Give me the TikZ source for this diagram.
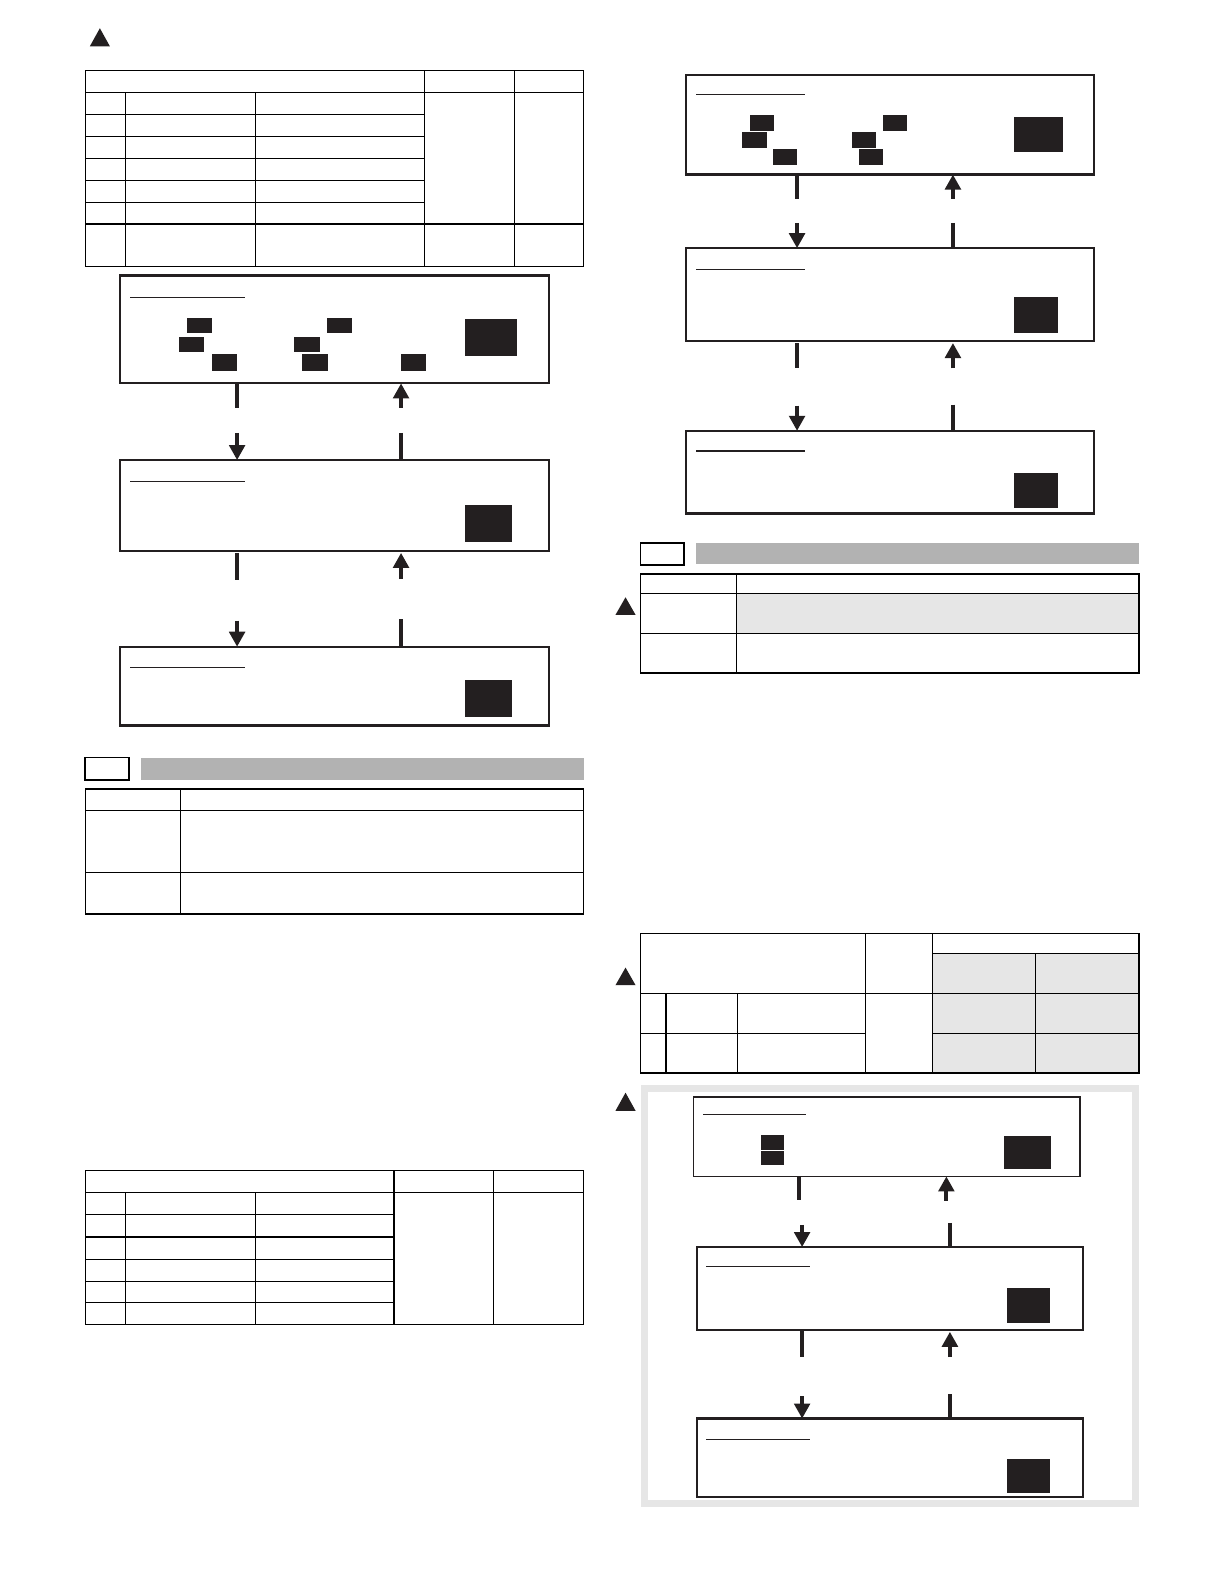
\documentclass[tikz,border=0pt]{standalone}
\usetikzlibrary{arrows.meta}
\definecolor{ink}{HTML}{231F20}
\definecolor{hdr}{HTML}{B2B2B2}
\definecolor{cellgray}{HTML}{E6E6E6}
\tikzset{
  screen/.style={draw=ink,line width=2.2pt,fill=white},
  thinscreen/.style={draw=ink,line width=1.6pt,fill=white},
  blk/.style={fill=ink,draw=none},
  ruleline/.style={draw=ink,line width=1.1pt},
  gridline/.style={draw=black,line width=1.25pt,line cap=rect},
  flowstub/.style={draw=ink,line width=3.9pt},
  flowtip/.style={draw=ink,line width=3.9pt,-{Triangle[width=15.5pt,length=15pt]}},
  warnmark/.style={fill=ink,draw=none},
  headbox/.style={draw=black,line width=1.5pt,fill=white},
  headbar/.style={fill=hdr,draw=none},
}
\newcommand{\bx}[6]{%
  \pgfmathsetmacro\bxw{(#4-#2)*1.0091}%
  \pgfmathsetmacro\bxh{(#5-#3)*1.0091}%
  \node[#6,minimum width=\bxw pt,minimum height=\bxh pt,inner sep=0pt,outer sep=0pt,anchor=north west] (#1) at (#2,#3) {};}
\newcommand{\tri}[3]{\path[warnmark] (#1,#2) -- (#1-10,#3) -- (#1+10,#3) -- cycle;}
\begin{document}
\begin{tikzpicture}[x=1.0091pt,y=-1.0091pt]
\useasboundingbox (0,0) rectangle (1213,1568);
\fill[white] (0,0) rectangle (1213,1568);
% warning triangles
\tri{99}{28}{46}
\tri{620}{592}{609.5}
\tri{620}{959}{976.5}
\tri{620}{1083}{1101}
% table 1
\draw[gridline] (84.5,70) rectangle (578,264);
\foreach \y in {92,222} \draw[gridline] (84.5,\y) -- (578,\y);
\foreach \y in {113.8,135.6,157.4,179.2,201} \draw[gridline] (84.5,\y) -- (420.6,\y);
\foreach \x in {124.3,253} \draw[gridline] (\x,92) -- (\x,264);
\foreach \x in {420.6,509.6} \draw[gridline] (\x,70) -- (\x,264);
% left column screens
\bx{aone}{119}{273}{544}{380}{screen}
\bx{atwo}{119}{456}{544}{546}{screen}
\bx{athree}{119}{641}{544}{719}{screen}
\draw[ruleline] (129,295) -- (243,295);
\draw[ruleline] (129,477) -- (243,477);
\draw[ruleline] (129,662) -- (243,662);
\foreach \a/\b/\c/\d in {185.5/315/210/330.5,177/334/202.5/349,210/351/235/368,324/315/349/330.5,291/334/317/349,299/351/325/368,397/351/422/368,461/316/512.5/353,461/501/507.5/537.5,461/674/507.5/710.5}
  \fill[blk] (\a,\b) rectangle (\c,\d);
% connectors left column
\coordinate (aoneL) at (235,404); \coordinate (aoneR) at (397.5,404);
\coordinate (atwoLin) at (235,429); \coordinate (atwoRin) at (397.5,429);
\coordinate (atwoL) at (235,575); \coordinate (atwoR) at (397.5,574);
\coordinate (athreeLin) at (235,615); \coordinate (athreeRin) at (397.5,614);
\draw[flowstub] (aone.south -| aoneL) -- (aoneL);
\draw[flowtip] (aoneR) -- (aone.south -| aoneR);
\draw[flowtip] (atwoLin) -- (atwo.north -| atwoLin);
\draw[flowstub] (atwoRin) -- (atwo.north -| atwoRin);
\draw[flowstub] ([yshift=-2pt]atwo.south -| atwoL) -- (atwoL);
\draw[flowtip] (atwoR) -- ([yshift=-2pt]atwo.south -| atwoR);
\draw[flowtip] (athreeLin) -- (athree.north -| athreeLin);
\draw[flowstub] (athreeRin) -- (athree.north -| athreeRin);
% section header + table, left
\bx{hleft}{84}{751}{128}{773}{headbox}
\fill[headbar] (140,751) rectangle (579,773);
\draw[gridline] (85,782) rectangle (578,906);
\foreach \y in {803,864.5} \draw[gridline] (85,\y) -- (578,\y);
\draw[gridline] (179,782) -- (179,906);
% table bottom left
\draw[gridline] (85,1160) rectangle (578,1312.5);
\draw[gridline] (85,1182) -- (578,1182);
\foreach \y in {1204,1226,1248,1270,1291} \draw[gridline] (85,\y) -- (390.5,\y);
\foreach \x in {124.3,253} \draw[gridline] (\x,1182) -- (\x,1312.5);
\foreach \x in {390.5,489} \draw[gridline] (\x,1160) -- (\x,1312.5);
% right column screens
\bx{bone}{680}{74}{1084}{173}{screen}
\bx{btwo}{680}{246}{1084}{338}{screen}
\bx{bthree}{680}{427}{1084}{509}{screen}
\draw[ruleline] (690,94) -- (798,94);
\draw[ruleline] (690,267) -- (798,267);
\draw[ruleline] (690,447) -- (798,447);
\foreach \a/\b/\c/\d in {743/114/767/130,735/131/760/147,766/148/790/164,875/114/899/130,844/131/868/147,851/148/875/164,1005/116/1053.5/150.5,1005/294.5/1048.5/330,1005/469/1048.5/503.5}
  \fill[blk] (\a,\b) rectangle (\c,\d);
\coordinate (boneL) at (790,197); \coordinate (boneR) at (944.5,197);
\coordinate (btwoLin) at (790,221); \coordinate (btwoRin) at (944.5,221);
\coordinate (btwoL) at (790,365); \coordinate (btwoR) at (944.5,365);
\coordinate (bthreeLin) at (790,402); \coordinate (bthreeRin) at (944.5,401);
\draw[flowstub] (bone.south -| boneL) -- (boneL);
\draw[flowtip] (boneR) -- (bone.south -| boneR);
\draw[flowtip] (btwoLin) -- (btwo.north -| btwoLin);
\draw[flowstub] (btwoRin) -- (btwo.north -| btwoRin);
\draw[flowstub] ([yshift=-2pt]btwo.south -| btwoL) -- (btwoL);
\draw[flowtip] (btwoR) -- ([yshift=-2pt]btwo.south -| btwoR);
\draw[flowtip] (bthreeLin) -- (bthree.north -| bthreeLin);
\draw[flowstub] (bthreeRin) -- (bthree.north -| bthreeRin);
% section header + table, right
\bx{hright}{635}{538}{678}{560}{headbox}
\fill[headbar] (690,538) rectangle (1129,559);
\fill[cellgray] (730,588) rectangle (1129,628);
\draw[gridline] (635,569) rectangle (1129,667);
\foreach \y in {588,628} \draw[gridline] (635,\y) -- (1129,\y);
\draw[gridline] (730,569) -- (730,667);
% table 2 right
\fill[cellgray] (924,945) rectangle (1129,1063.5);
\draw[gridline] (635,925) rectangle (1129,1063.5);
\draw[gridline] (924,945) -- (1129,945);
\draw[gridline] (635,985) -- (1129,985);
\draw[gridline] (635,1024) -- (858,1024);
\draw[gridline] (924,1024) -- (1129,1024);
\foreach \x in {660,731} \draw[gridline] (\x,985) -- (\x,1063.5);
\foreach \x in {858,924} \draw[gridline] (\x,925) -- (\x,1063.5);
\draw[gridline] (1026,945) -- (1026,1063.5);
% gray frame
\draw[cellgray,line width=7pt] (638.5,1078.5) rectangle (1125.5,1490.5);
% framed screens
\bx{cone}{687.5}{1087}{1070.5}{1166}{thinscreen}
\bx{ctwo}{691}{1236}{1073.5}{1318}{thinscreen}
\bx{cthree}{691}{1406}{1073.5}{1484}{screen}
\draw[ruleline] (697,1105) -- (799,1105);
\draw[ruleline] (700,1255) -- (803,1255);
\draw[ruleline] (700,1427) -- (803,1427);
\foreach \a/\b/\c/\d in {754/1125/777/1140,754/1141/777/1155,995/1126/1041.5/1159,998/1277/1040.5/1311,998/1446/1040.5/1480}
  \fill[blk] (\a,\b) rectangle (\c,\d);
\coordinate (coneL) at (792,1189); \coordinate (coneR) at (938,1190);
\coordinate (ctwoLin) at (795,1214); \coordinate (ctwoRin) at (941.5,1212);
\coordinate (ctwoL) at (795,1345); \coordinate (ctwoR) at (941.5,1345);
\coordinate (cthreeLin) at (795,1384); \coordinate (cthreeRin) at (941.5,1382);
\draw[flowstub] (cone.south -| coneL) -- (coneL);
\draw[flowtip] (coneR) -- (cone.south -| coneR);
\draw[flowtip] (ctwoLin) -- (ctwo.north -| ctwoLin);
\draw[flowstub] (ctwoRin) -- (ctwo.north -| ctwoRin);
\draw[flowstub] (ctwo.south -| ctwoL) -- (ctwoL);
\draw[flowtip] (ctwoR) -- ([yshift=-2pt]ctwo.south -| ctwoR);
\draw[flowtip] (cthreeLin) -- (cthree.north -| cthreeLin);
\draw[flowstub] (cthreeRin) -- (cthree.north -| cthreeRin);
\end{tikzpicture}
\end{document}
